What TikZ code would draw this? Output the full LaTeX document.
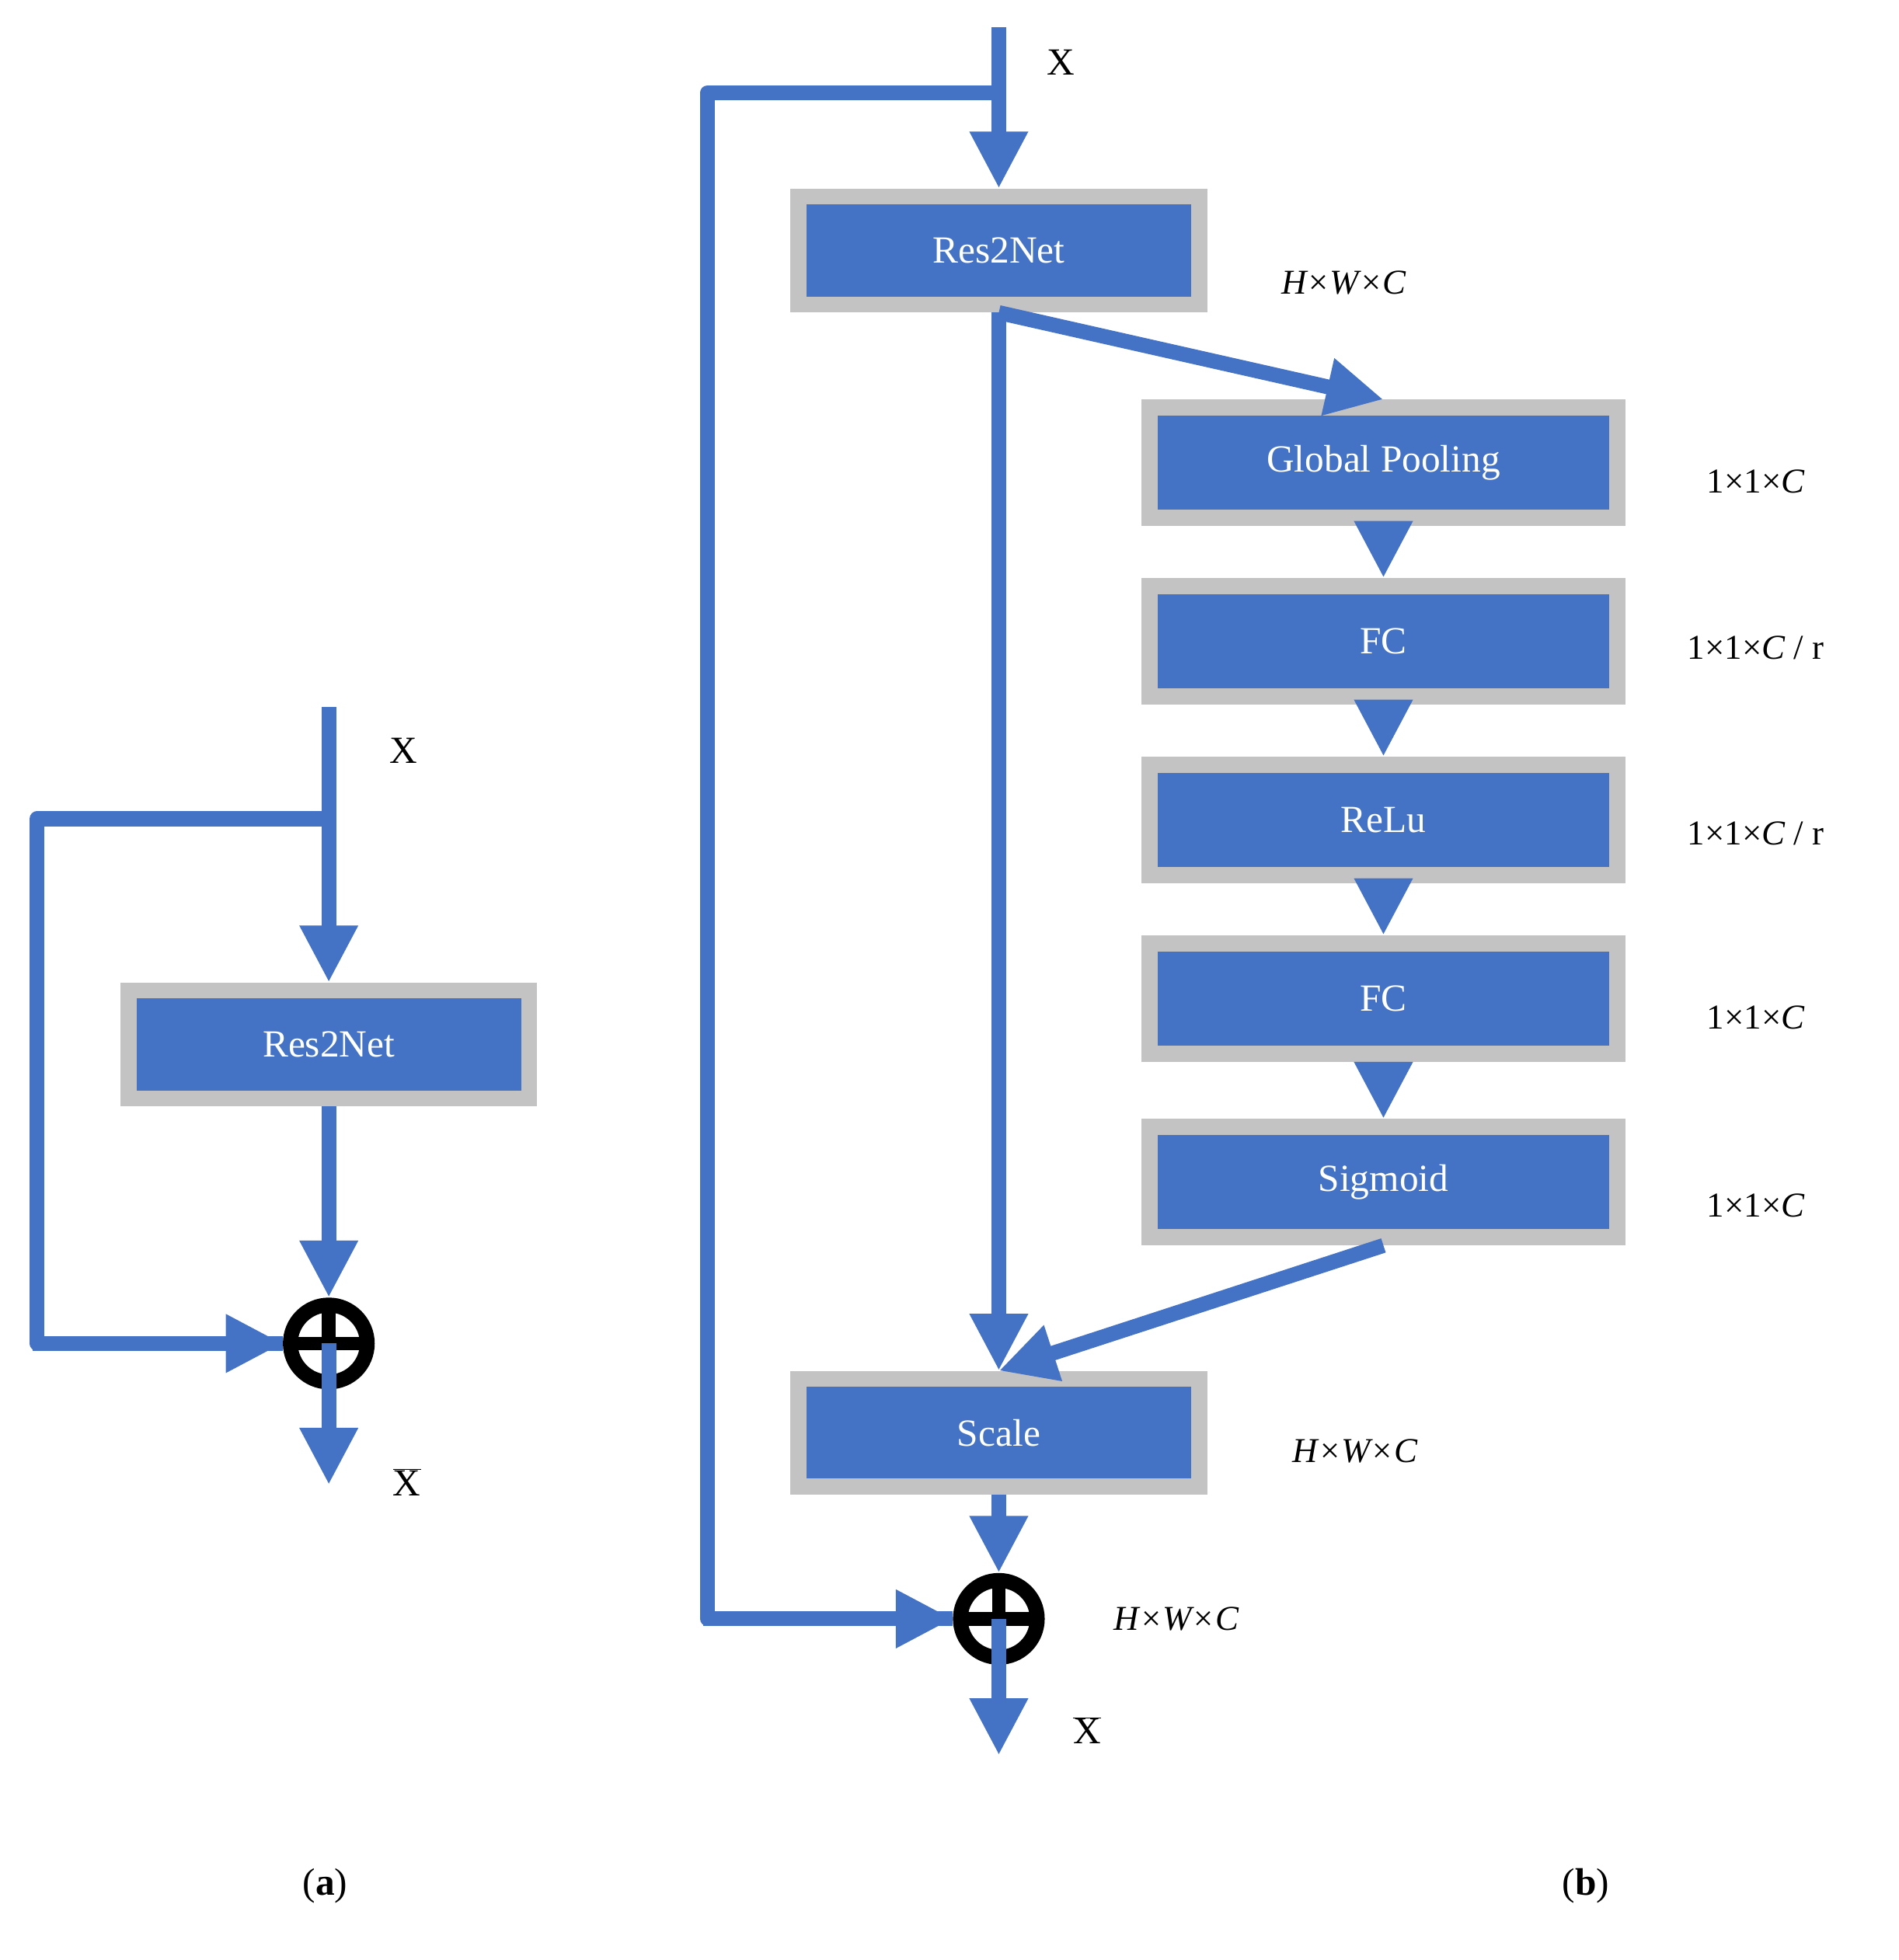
\documentclass[tikz,border=0pt]{standalone}
\usepackage{fontspec}
\setmainfont{Liberation Serif}
\usetikzlibrary{arrows.meta}
\definecolor{bb}{HTML}{4472C4}
\definecolor{gg}{HTML}{C3C3C3}
\begin{document}
\begin{tikzpicture}[x=0.05cm,y=-0.05cm,
 ln/.style={draw=bb,line width=0.6cm},
 ar/.style={ln,-{Triangle[length=2.3cm,width=2.2cm]}},
 box/.style={fill=bb,draw=gg,line width=0.65cm,text=white,font=\fontsize{44}{50}\selectfont,inner sep=0pt},
 sbox/.style={box,minimum width=16.15cm,minimum height=4.35cm},
 wbox/.style={box,minimum width=18.85cm,minimum height=4.45cm},
 lab/.style={font=\fontsize{44}{50}\selectfont},
 dim/.style={font=\fontsize{40}{46}\selectfont\itshape},
 sum/.style={circle,draw=black,line width=0.6cm,fill=white,minimum size=3.1cm,inner sep=0pt,
   path picture={\draw[black,line width=0.55cm] (path picture bounding box.north)--(path picture bounding box.south) (path picture bounding box.west)--(path picture bounding box.east);}}]
\useasboundingbox (0,0) rectangle (1530,1580);
% (a)
\coordinate (aT) at (265,570);
\coordinate (aB) at (265,660);
\coordinate (aL1) at (30,660);
\coordinate (aL2) at (30,1083);
\coordinate (aE) at (265,1197);
\node[sbox] (aR) at (265,842) {Res2Net};
\node[sum] (aS) at (265,1083) {};
\draw[ln] (aT)--(aB);
\draw[ar] (aB)--(aR.north);
\draw[ar] (aR.south)--(aS.north);
\draw[ln,line join=round] (aB)--(aL1)--(aL2)--(aS.west);
\draw[ar] ([xshift=-5]aL2)--(aS.west);
\draw[ar] (aS.center)--(aE);
\node[lab] (aX) at (325,605) {X};
\node[lab] (aXb) at (328,1195) {$\overline{\mbox{X}}$};
\node[font=\fontsize{44}{50}\selectfont] (ca) at (262,1520) {(\textbf{a})};
% (b)
\coordinate (bT) at (805,22);
\coordinate (bB) at (805,75);
\coordinate (bL1) at (570,75);
\coordinate (bL2) at (570,1305);
\coordinate (bE) at (805,1415);
\node[sbox] (bR) at (805,202) {Res2Net};
\node[wbox] (gp) at (1115,373) {Global Pooling};
\node[wbox] (fc1) at (1115,517) {FC};
\node[wbox] (re) at (1115,661) {ReLu};
\node[wbox] (fc2) at (1115,805) {FC};
\node[wbox] (sg) at (1115,953) {Sigmoid};
\node[sbox] (sc) at (805,1155) {Scale};
\node[sum] (bS) at (805,1305) {};
\draw[ln] (bT)--(bB);
\draw[ar] (bB)--(bR.north);
\draw[ln,line join=round] (bB)--(bL1)--(bL2)--(bS.west);
\draw[ar] ([xshift=-5]bL2)--(bS.west);
\draw[ar] (bR.south)--(sc.north);
\draw[ar] (bR.south)--(gp.north);
\draw[ar] (gp.south)--(fc1.north);
\draw[ar] (fc1.south)--(re.north);
\draw[ar] (re.south)--(fc2.north);
\draw[ar] (fc2.south)--(sg.north);
\draw[ar] (sg.south)--(sc.north);
\draw[ar] (sc.south)--(bS.north);
\draw[ar] (bS.center)--(bE);
\node[lab] (bX) at (855,50) {X};
\node[lab] (bXb) at (876,1395) {$\overline{\mbox{X}}$};
\node[dim] (d1) at (1083,228) {H×W×C};
\node[dim] (d2) at (1415,388) {\upshape 1×1×\itshape C};
\node[dim] (d3) at (1415,522) {\upshape 1×1×\itshape C\upshape{ / }r};
\node[dim] (d4) at (1415,672) {\upshape 1×1×\itshape C\upshape{ / }r};
\node[dim] (d5) at (1415,820) {\upshape 1×1×\itshape C};
\node[dim] (d6) at (1415,972) {\upshape 1×1×\itshape C};
\node[dim] (d7) at (1092,1170) {H×W×C};
\node[dim] (d8) at (948,1305) {H×W×C};
\node[font=\fontsize{44}{50}\selectfont] (cb) at (1278,1520) {(\textbf{b})};
\end{tikzpicture}
\end{document}
